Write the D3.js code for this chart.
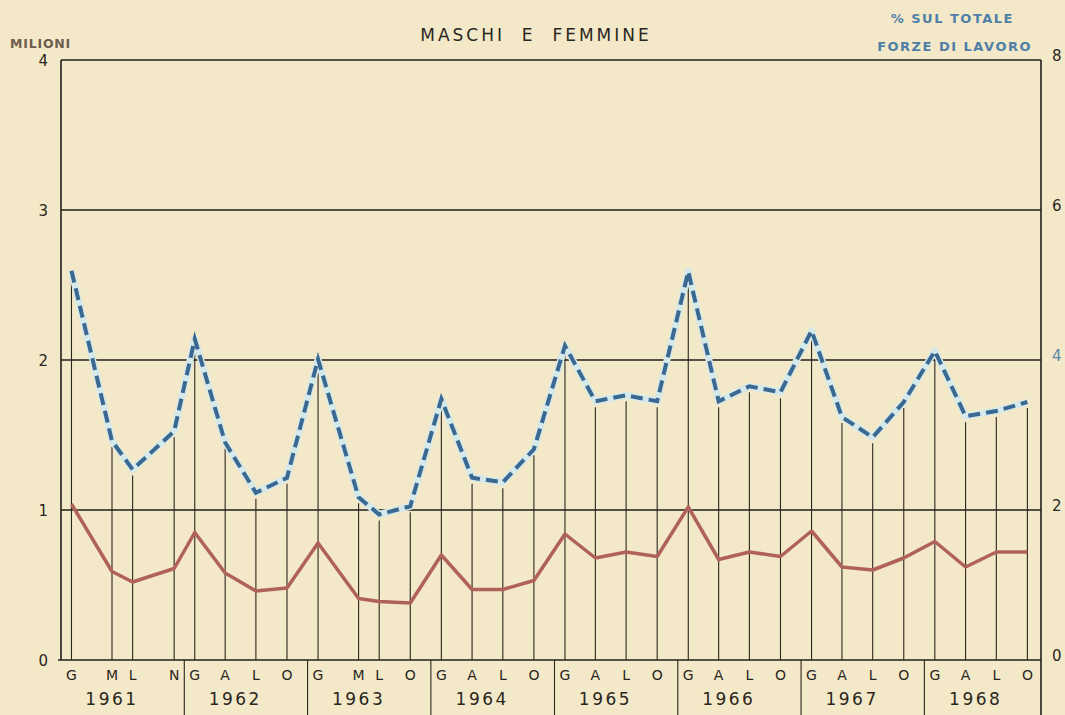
<!DOCTYPE html>
<html>
<head>
<meta charset="utf-8">
<script src="https://cdn.jsdelivr.net/npm/d3@7"></script>
<style>
  body { margin: 0; background: #f3e9c9; }
  svg { display: block; font-family: "DejaVu Sans", sans-serif; }
</style>
</head>
<body>
<div id="chart"></div>
<script>
// survey dates (year-month) and the month letter printed under each one
const dates = [
  "1961-01", "1961-05", "1961-07", "1961-11",
  "1962-01", "1962-04", "1962-07", "1962-10",
  "1963-01", "1963-05", "1963-07", "1963-10",
  "1964-01", "1964-04", "1964-07", "1964-10",
  "1965-01", "1965-04", "1965-07", "1965-10",
  "1966-01", "1966-04", "1966-07", "1966-10",
  "1967-01", "1967-04", "1967-07", "1967-10",
  "1968-01", "1968-04", "1968-07", "1968-10"
];
const monthLetters = [
  "G", "M", "L", "N",
  "G", "A", "L", "O",
  "G", "M", "L", "O",
  "G", "A", "L", "O",
  "G", "A", "L", "O",
  "G", "A", "L", "O",
  "G", "A", "L", "O",
  "G", "A", "L", "O"
];
const years = [1961, 1962, 1963, 1964, 1965, 1966, 1967, 1968];

// unemployed, millions (left axis)
const millions = [
  1.04, 0.59, 0.52, 0.61,
  0.85, 0.58, 0.46, 0.48,
  0.78, 0.41, 0.39, 0.38,
  0.70, 0.47, 0.47, 0.53,
  0.84, 0.68, 0.72, 0.69,
  1.02, 0.67, 0.72, 0.69,
  0.86, 0.62, 0.60, 0.68,
  0.79, 0.62, 0.72, 0.72
];
// % of total labour force (right axis)
const percent = [
  5.19, 2.92, 2.54, 3.05,
  4.28, 2.90, 2.23, 2.43,
  4.01, 2.17, 1.94, 2.05,
  3.48, 2.43, 2.37, 2.81,
  4.19, 3.45, 3.53, 3.45,
  5.18, 3.45, 3.65, 3.57,
  4.39, 3.24, 2.97, 3.44,
  4.12, 3.25, 3.32, 3.44
];

const leftTicks = [0, 1, 2, 3, 4];
const rightTicks = [0, 2, 4, 6, 8];

const width = 1065;
const height = 715;
const margin = { top: 60, right: 24, bottom: 55, left: 61 };
const plotRight = width - margin.right;
const plotBottom = height - margin.bottom;

const parseMonth = d3.timeParse("%Y-%m");
const points = dates.map((d, i) => ({
  date: parseMonth(d),
  letter: monthLetters[i],
  mil: millions[i],
  pct: percent[i]
}));

const svg = d3.select("#chart")
  .append("svg")
  .attr("width", width)
  .attr("height", height);

svg.append("rect")
  .attr("width", width)
  .attr("height", height)
  .attr("fill", "#f3e9c9");

// each year's box starts at December of the year before;
// the hand-drawn last year is a bit squeezed against the right border
const xScale = d3.scaleTime()
  .domain([new Date(1960, 11, 1), new Date(1968, 11, 1)])
  .range([margin.left, 1048]);

const yLeft = d3.scaleLinear().domain([0, 4]).range([plotBottom, margin.top]);
const yRight = d3.scaleLinear().domain([0, 8]).range([plotBottom, margin.top]);

const ink = "#221e19";

// horizontal grid
svg.append("g")
  .selectAll("line")
  .data(leftTicks.slice(1))
  .enter()
  .append("line")
  .attr("x1", margin.left)
  .attr("x2", plotRight)
  .attr("y1", (d) => yLeft(d))
  .attr("y2", (d) => yLeft(d))
  .attr("stroke", ink)
  .attr("stroke-width", 1.4);

// frame: left, right, baseline
svg.append("line")
  .attr("x1", margin.left).attr("x2", margin.left)
  .attr("y1", margin.top).attr("y2", plotBottom)
  .attr("stroke", ink).attr("stroke-width", 1.6);
svg.append("line")
  .attr("x1", plotRight).attr("x2", plotRight)
  .attr("y1", margin.top).attr("y2", height)
  .attr("stroke", ink).attr("stroke-width", 1.6);
svg.append("line")
  .attr("x1", margin.left - 3).attr("x2", plotRight)
  .attr("y1", plotBottom).attr("y2", plotBottom)
  .attr("stroke", ink).attr("stroke-width", 1.6);

// drop lines from the % points to the baseline
svg.append("g")
  .selectAll("line")
  .data(points)
  .enter()
  .append("line")
  .attr("x1", (d) => xScale(d.date))
  .attr("x2", (d) => xScale(d.date))
  .attr("y1", (d) => yRight(d.pct) + 6)
  .attr("y2", plotBottom)
  .attr("stroke", "#2a2620")
  .attr("stroke-width", 1.1);

// year separators below the baseline
svg.append("g")
  .selectAll("line")
  .data(years.slice(1))
  .enter()
  .append("line")
  .attr("x1", (d) => xScale(new Date(d - 1, 11, 1)))
  .attr("x2", (d) => xScale(new Date(d - 1, 11, 1)))
  .attr("y1", plotBottom)
  .attr("y2", height)
  .attr("stroke", "#2a2620")
  .attr("stroke-width", 1.1);

// month letters
svg.append("g")
  .selectAll("text")
  .data(points)
  .enter()
  .append("text")
  .attr("x", (d) => xScale(d.date))
  .attr("y", plotBottom + 20)
  .attr("text-anchor", "middle")
  .attr("font-size", 14)
  .attr("fill", "#2a2620")
  .text((d) => d.letter);

// year labels, centred a little left of each box as in the original
svg.append("g")
  .selectAll("text")
  .data(years)
  .enter()
  .append("text")
  .attr("x", (d) => xScale(new Date(d, 4, 1)))
  .attr("y", plotBottom + 45)
  .attr("text-anchor", "middle")
  .attr("font-size", 17)
  .attr("letter-spacing", 2.5)
  .attr("fill", "#2a2620")
  .text((d) => d);

// axis labels
svg.append("g")
  .selectAll("text")
  .data(leftTicks)
  .enter()
  .append("text")
  .attr("x", 48)
  .attr("y", (d) => yLeft(d) + 6)
  .attr("text-anchor", "end")
  .attr("font-size", 15)
  .attr("fill", "#2a2620")
  .text((d) => d);

svg.append("g")
  .selectAll("text")
  .data(rightTicks)
  .enter()
  .append("text")
  .attr("x", plotRight + 11)
  .attr("y", (d) => yRight(d) + 1)
  .attr("font-size", 15)
  .attr("fill", (d) => (d === 4 ? "#5a86a8" : "#2a2620"))
  .text((d) => d);

// % series: light halo under a dashed blue line
const linePct = d3.line()
  .x((d) => xScale(d.date))
  .y((d) => yRight(d.pct));

svg.append("path")
  .datum(points)
  .attr("d", linePct)
  .attr("fill", "none")
  .attr("stroke", "#d6e9ea")
  .attr("stroke-width", 7)
  .attr("stroke-linejoin", "round");

svg.append("path")
  .datum(points)
  .attr("d", linePct)
  .attr("fill", "none")
  .attr("stroke", "#3b6890")
  .attr("stroke-width", 4)
  .attr("stroke-dasharray", "12,6")
  .attr("stroke-linejoin", "miter");

// millions series
const lineMil = d3.line()
  .x((d) => xScale(d.date))
  .y((d) => yLeft(d.mil));

svg.append("path")
  .datum(points)
  .attr("d", lineMil)
  .attr("fill", "none")
  .attr("stroke", "#b0615a")
  .attr("stroke-width", 3.5)
  .attr("stroke-linejoin", "round");

// titles
svg.append("text")
  .attr("x", 536)
  .attr("y", 41)
  .attr("text-anchor", "middle")
  .attr("font-size", 17)
  .attr("letter-spacing", 3)
  .attr("fill", "#2a2620")
  .attr("xml:space", "preserve")
  .style("white-space", "pre")
  .text("MASCHI  E  FEMMINE");

svg.append("text")
  .attr("x", 10)
  .attr("y", 48)
  .attr("font-size", 12.5)
  .attr("font-weight", "bold")
  .attr("letter-spacing", 0.8)
  .attr("fill", "#6e5c4c")
  .text("MILIONI");

svg.append("text")
  .attr("x", 1014)
  .attr("y", 23)
  .attr("text-anchor", "end")
  .attr("font-size", 13)
  .attr("font-weight", "bold")
  .attr("letter-spacing", 1.5)
  .attr("fill", "#4f7fa6")
  .text("% SUL TOTALE");

svg.append("text")
  .attr("x", 1032)
  .attr("y", 51)
  .attr("text-anchor", "end")
  .attr("font-size", 13)
  .attr("font-weight", "bold")
  .attr("letter-spacing", 1.5)
  .attr("fill", "#4f7fa6")
  .text("FORZE DI LAVORO");
</script>
</body>
</html>
